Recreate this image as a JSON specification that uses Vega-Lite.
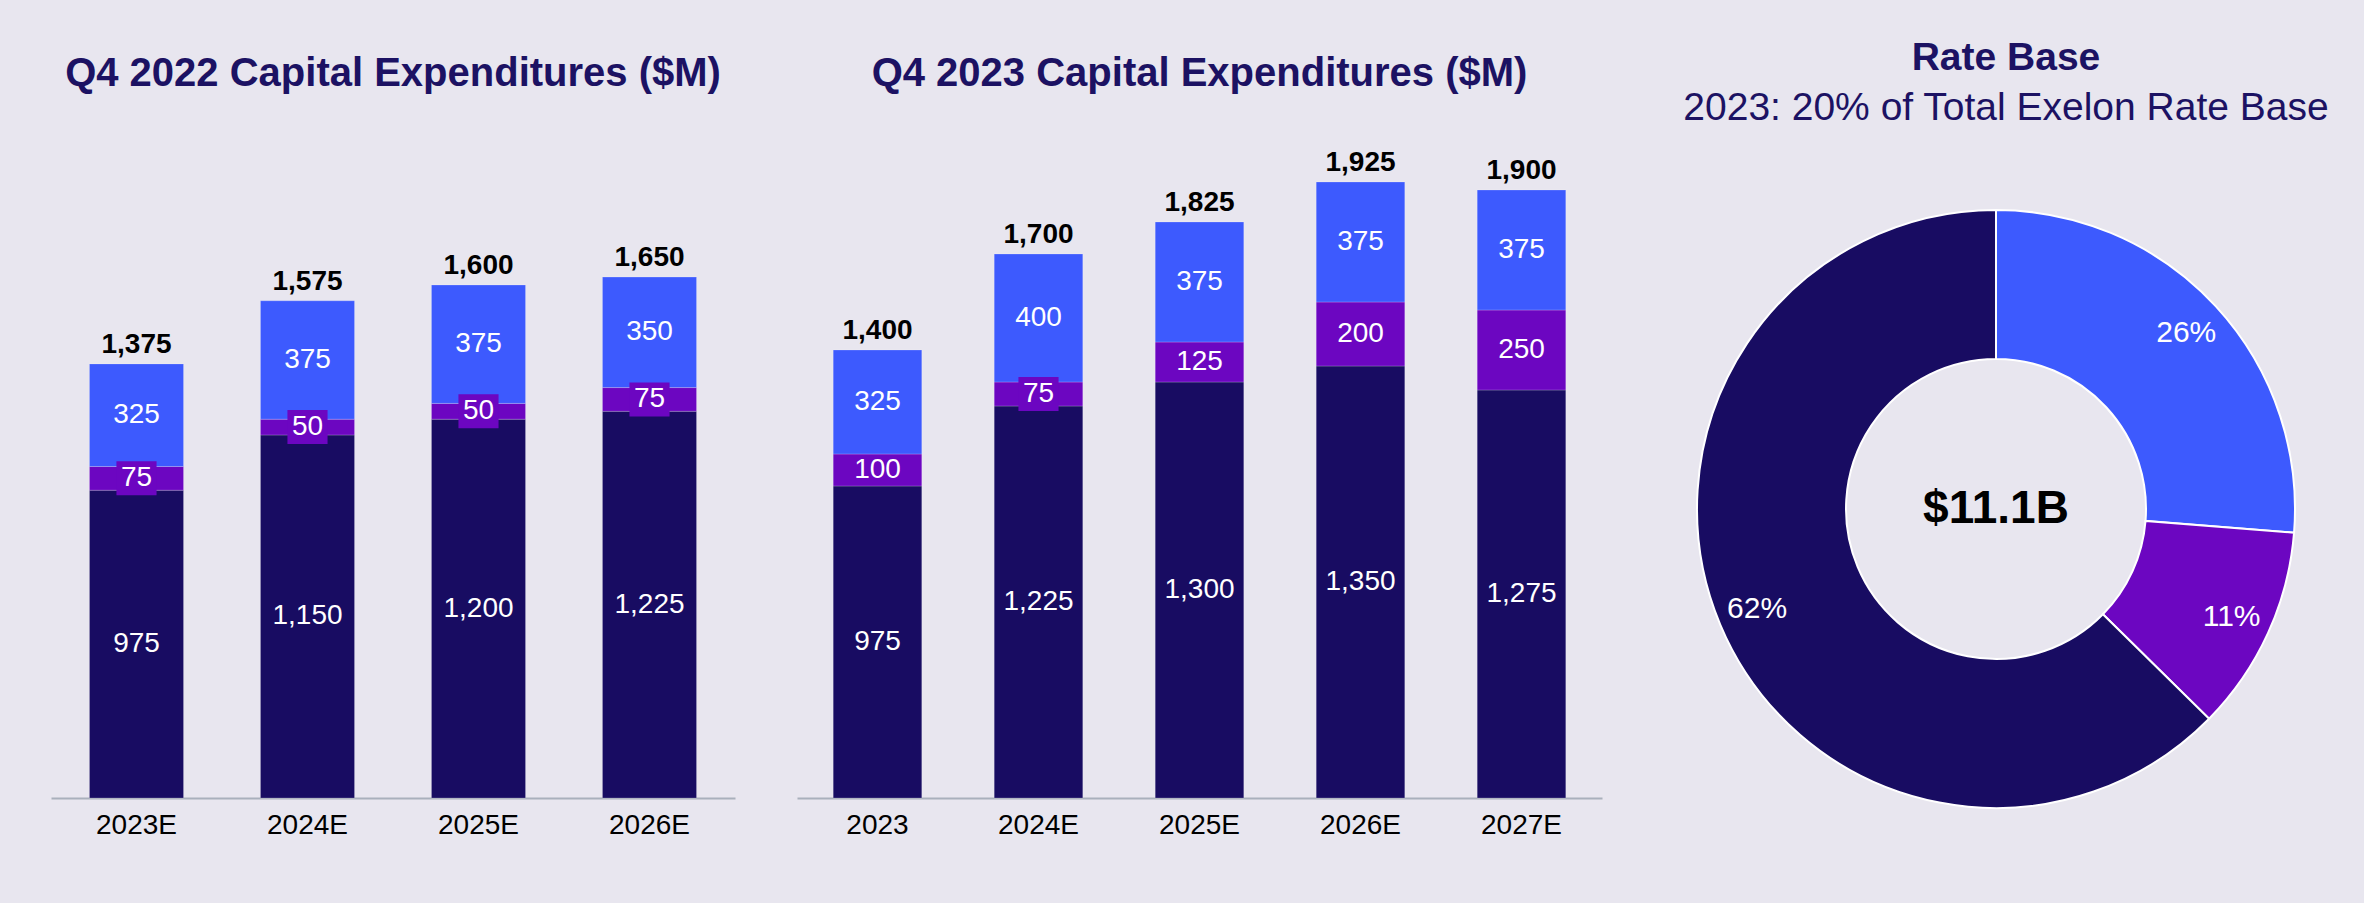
{
  "$schema": "https://vega.github.io/schema/vega-lite/v6.json",
  "background": "#E8E6EF",
  "padding": {"left": 51, "top": 39, "right": 34, "bottom": 3},
  "spacing": 62,
  "bounds": "flush",
  "config": {
    "font": "Liberation Sans",
    "view": {"stroke": null},
    "axisX": {
      "domainColor": "#A9B0BC",
      "domainWidth": 2,
      "ticks": false,
      "tickSize": 0,
      "grid": false,
      "labelFontSize": 28,
      "labelColor": "#000000",
      "labelPadding": 13,
      "labelAngle": 0,
      "title": null
    }
  },
  "datasets": {
    "q4_2022": [
      {"year": "2023E", "segment": "Electric Distribution", "value": 975},
      {"year": "2023E", "segment": "Electric Transmission", "value": 75},
      {"year": "2023E", "segment": "Gas Delivery", "value": 325},
      {"year": "2024E", "segment": "Electric Distribution", "value": 1150},
      {"year": "2024E", "segment": "Electric Transmission", "value": 50},
      {"year": "2024E", "segment": "Gas Delivery", "value": 375},
      {"year": "2025E", "segment": "Electric Distribution", "value": 1200},
      {"year": "2025E", "segment": "Electric Transmission", "value": 50},
      {"year": "2025E", "segment": "Gas Delivery", "value": 375},
      {"year": "2026E", "segment": "Electric Distribution", "value": 1225},
      {"year": "2026E", "segment": "Electric Transmission", "value": 75},
      {"year": "2026E", "segment": "Gas Delivery", "value": 350}
    ],
    "totals_2022": [
      {"year": "2023E", "total": 1375},
      {"year": "2024E", "total": 1575},
      {"year": "2025E", "total": 1600},
      {"year": "2026E", "total": 1650}
    ],
    "q4_2023": [
      {"year": "2023", "segment": "Electric Distribution", "value": 975},
      {"year": "2023", "segment": "Electric Transmission", "value": 100},
      {"year": "2023", "segment": "Gas Delivery", "value": 325},
      {"year": "2024E", "segment": "Electric Distribution", "value": 1225},
      {"year": "2024E", "segment": "Electric Transmission", "value": 75},
      {"year": "2024E", "segment": "Gas Delivery", "value": 400},
      {"year": "2025E", "segment": "Electric Distribution", "value": 1300},
      {"year": "2025E", "segment": "Electric Transmission", "value": 125},
      {"year": "2025E", "segment": "Gas Delivery", "value": 375},
      {"year": "2026E", "segment": "Electric Distribution", "value": 1350},
      {"year": "2026E", "segment": "Electric Transmission", "value": 200},
      {"year": "2026E", "segment": "Gas Delivery", "value": 375},
      {"year": "2027E", "segment": "Electric Distribution", "value": 1275},
      {"year": "2027E", "segment": "Electric Transmission", "value": 250},
      {"year": "2027E", "segment": "Gas Delivery", "value": 375}
    ],
    "totals_2023": [
      {"year": "2023", "total": 1400},
      {"year": "2024E", "total": 1700},
      {"year": "2025E", "total": 1825},
      {"year": "2026E", "total": 1925},
      {"year": "2027E", "total": 1900}
    ],
    "rate_base": [
      {"segment": "Gas Delivery", "share": 0.26},
      {"segment": "Electric Transmission", "share": 0.11},
      {"segment": "Electric Distribution", "share": 0.62}
    ],
    "center": [
      {"label": "$11.1B"}
    ]
  },
  "hconcat": [
    {
      "width": 684,
      "height": 680,
      "data": {"name": "q4_2022"},
      "title": {"text": "Q4 2022 Capital Expenditures ($M)", "fontSize": 40, "fontWeight": "bold", "color": "#1C1263", "anchor": "middle", "frame": "group", "offset": 24},
      "encoding": {
        "x": {"field": "year", "type": "ordinal", "sort": null, "scale": {"paddingInner": 0.45, "paddingOuter": 0.225}}
      },
      "layer": [
        {
          "mark": {"type": "bar", "stroke": "#ffffff", "strokeOpacity": 0.2, "strokeWidth": 1},
          "encoding": {
            "y": {"field": "value", "type": "quantitative", "stack": "zero", "scale": {"domain": [0, 2154], "nice": false}, "axis": null},
            "color": {"field": "segment", "type": "nominal", "scale": {"domain": ["Electric Distribution", "Electric Transmission", "Gas Delivery"], "range": ["#180C62", "#6C06C1", "#3D5AFE"]}, "legend": null},
            "order": {"field": "segment", "type": "nominal", "sort": "ascending"}
          }
        },
        {
          "mark": {"type": "point", "shape": "M-1.18,-1H1.18V1H-1.18Z", "filled": true, "size": 1156, "color": "#6C06C1", "strokeWidth": 0},
          "encoding": {
            "y": {"field": "value", "type": "quantitative", "stack": "zero", "bandPosition": 0.5, "axis": null},
            "detail": {"field": "segment", "type": "nominal"},
            "order": {"field": "segment", "type": "nominal", "sort": "ascending"},
            "opacity": {"condition": {"test": "datum.segment === 'Electric Transmission' && datum.value <= 75", "value": 1}, "value": 0}
          }
        },
        {
          "mark": {"type": "text", "color": "#ffffff", "fontSize": 28},
          "encoding": {
            "y": {"field": "value", "type": "quantitative", "stack": "zero", "bandPosition": 0.5, "axis": null},
            "detail": {"field": "segment", "type": "nominal"},
            "order": {"field": "segment", "type": "nominal", "sort": "ascending"},
            "text": {"field": "value", "type": "quantitative", "format": ",d"}
          }
        },
        {
          "transform": [
            {"aggregate": [{"op": "sum", "field": "value", "as": "bar_top"}], "groupby": ["year"]},
            {"lookup": "year", "from": {"data": {"name": "totals_2022"}, "key": "year", "fields": ["total"]}}
          ],
          "mark": {"type": "text", "color": "#000000", "fontSize": 28, "fontWeight": "bold", "baseline": "alphabetic", "dy": -11},
          "encoding": {
            "y": {"field": "bar_top", "type": "quantitative", "axis": null},
            "text": {"field": "total", "type": "quantitative", "format": ",d"}
          }
        }
      ]
    },
    {
      "width": 805,
      "height": 680,
      "data": {"name": "q4_2023"},
      "title": {"text": "Q4 2023 Capital Expenditures ($M)", "fontSize": 40, "fontWeight": "bold", "color": "#1C1263", "anchor": "middle", "frame": "group", "offset": 24},
      "encoding": {
        "x": {"field": "year", "type": "ordinal", "sort": null, "scale": {"paddingInner": 0.45, "paddingOuter": 0.225}}
      },
      "layer": [
        {
          "mark": {"type": "bar", "stroke": "#ffffff", "strokeOpacity": 0.2, "strokeWidth": 1},
          "encoding": {
            "y": {"field": "value", "type": "quantitative", "stack": "zero", "scale": {"domain": [0, 2125], "nice": false}, "axis": null},
            "color": {"field": "segment", "type": "nominal", "scale": {"domain": ["Electric Distribution", "Electric Transmission", "Gas Delivery"], "range": ["#180C62", "#6C06C1", "#3D5AFE"]}, "legend": null},
            "order": {"field": "segment", "type": "nominal", "sort": "ascending"}
          }
        },
        {
          "mark": {"type": "point", "shape": "M-1.18,-1H1.18V1H-1.18Z", "filled": true, "size": 1156, "color": "#6C06C1", "strokeWidth": 0},
          "encoding": {
            "y": {"field": "value", "type": "quantitative", "stack": "zero", "bandPosition": 0.5, "axis": null},
            "detail": {"field": "segment", "type": "nominal"},
            "order": {"field": "segment", "type": "nominal", "sort": "ascending"},
            "opacity": {"condition": {"test": "datum.segment === 'Electric Transmission' && datum.value <= 75", "value": 1}, "value": 0}
          }
        },
        {
          "mark": {"type": "text", "color": "#ffffff", "fontSize": 28},
          "encoding": {
            "y": {"field": "value", "type": "quantitative", "stack": "zero", "bandPosition": 0.5, "axis": null},
            "detail": {"field": "segment", "type": "nominal"},
            "order": {"field": "segment", "type": "nominal", "sort": "ascending"},
            "text": {"field": "value", "type": "quantitative", "format": ",d"}
          }
        },
        {
          "transform": [
            {"aggregate": [{"op": "sum", "field": "value", "as": "bar_top"}], "groupby": ["year"]},
            {"lookup": "year", "from": {"data": {"name": "totals_2023"}, "key": "year", "fields": ["total"]}}
          ],
          "mark": {"type": "text", "color": "#000000", "fontSize": 28, "fontWeight": "bold", "baseline": "alphabetic", "dy": -11},
          "encoding": {
            "y": {"field": "bar_top", "type": "quantitative", "axis": null},
            "text": {"field": "total", "type": "quantitative", "format": ",d"}
          }
        }
      ]
    },
    {
      "width": 664,
      "height": 782,
      "title": {"text": "Rate Base", "subtitle": "2023: 20% of Total Exelon Rate Base", "fontSize": 39, "subtitleFontSize": 39, "fontWeight": "bold", "subtitleFontWeight": "normal", "color": "#1C1263", "subtitleColor": "#1C1263", "subtitlePadding": 11, "anchor": "middle", "frame": "group", "offset": -10, "dx": 10},
      "layer": [
        {
          "data": {"name": "rate_base"},
          "mark": {"type": "arc", "outerRadius": 299, "innerRadius": 150, "stroke": "#ffffff", "strokeWidth": 2},
          "encoding": {
            "theta": {"field": "share", "type": "quantitative", "stack": true},
            "color": {"field": "segment", "type": "nominal", "scale": {"domain": ["Electric Distribution", "Electric Transmission", "Gas Delivery"], "range": ["#180C62", "#6C06C1", "#3D5AFE"]}, "legend": null},
            "order": {"field": "segment", "type": "nominal", "sort": "descending"}
          }
        },
        {
          "data": {"name": "rate_base"},
          "mark": {"type": "text", "radius": 259, "fontSize": 30, "color": "#ffffff"},
          "encoding": {
            "theta": {"field": "share", "type": "quantitative", "stack": true},
            "detail": {"field": "segment", "type": "nominal"},
            "order": {"field": "segment", "type": "nominal", "sort": "descending"},
            "text": {"field": "share", "type": "quantitative", "format": ".0%"}
          }
        },
        {
          "data": {"name": "center"},
          "mark": {"type": "text", "fontSize": 46, "fontWeight": "bold", "color": "#000000"},
          "encoding": {
            "text": {"field": "label", "type": "nominal"}
          }
        }
      ]
    }
  ]
}
